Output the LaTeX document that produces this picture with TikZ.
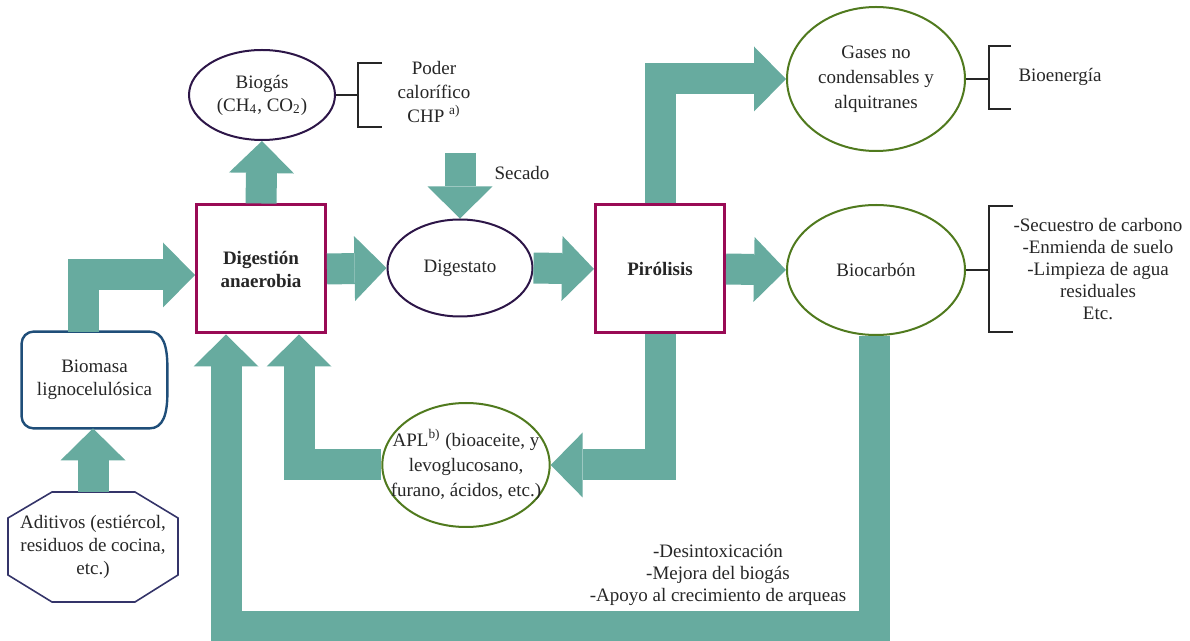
\documentclass[tikz,border=0pt]{standalone}
\usepackage{fontspec}
\setmainfont{Liberation Serif}
\usetikzlibrary{arrows.meta,calc,shapes.geometric}

\definecolor{flowteal}{RGB}{103,171,159}
\definecolor{boxred}{RGB}{153,10,85}
\definecolor{ovalpurple}{RGB}{45,22,72}
\definecolor{ovalgreen}{RGB}{80,122,30}
\definecolor{biomblue}{RGB}{31,78,121}
\definecolor{aditblue}{RGB}{52,52,105}

\tikzset{
    flow/.style={draw=flowteal, line width=15.5pt, -{Triangle[length=16pt,width=32.5pt,line width=0pt]}},
    procbox/.style={draw=boxred, line width=1.5pt, fill=white, minimum width=64.5pt, minimum height=64pt, align=center, font=\fontsize{9.5}{11.5}\selectfont\bfseries},
    oval/.style={ellipse, draw=ovalpurple, line width=1pt, fill=white, inner sep=-8pt, align=center},
    gooval/.style={oval, draw=ovalgreen},
    brk/.style={line width=1.2pt, black!85},
}

\begin{document}
\begin{tikzpicture}[x=0.5pt, y=-0.5pt, font=\fontsize{9.5}{11.5}\selectfont, text=black!85]
            \useasboundingbox (0,0) rectangle (1190,641);

            % Main nodes
            \node[oval, minimum width=73pt, minimum height=45pt] (biogas) at (262,95) {Biogás\\(CH\textsubscript{4}, CO\textsubscript{2})};
            \node[procbox] (dig) at (261,269) {Digestión\\anaerobia};
            \node[oval, minimum width=72.5pt, minimum height=48.5pt] (digest) at (460,268) {Digestato};
            \node[procbox] (piro) at (660,269) {Pirólisis};
            \node[gooval, minimum width=89pt, minimum height=72pt, font=\fontsize{9.5}{12.5}\selectfont] (gases) at (876,79) {Gases no\\condensables y\\alquitranes};
            \node[gooval, minimum width=89pt, minimum height=65pt] (biochar) at (876,270) {Biocarbón};
            \node[gooval, minimum width=83pt, minimum height=62pt, font=\fontsize{9.5}{12.5}\selectfont] (apl) at (466,465) {APL\textsuperscript{b)} (bioaceite, y\\levoglucosano,\\furano, ácidos, etc.)};
            \node[minimum width=72.5pt, minimum height=48pt, align=center] (bio) at (94.5,380) {Biomasa\\lignocelulósica};
            \node[minimum width=85pt, minimum height=55pt, align=center] (adit) at (93,547) {Aditivos (estiércol,\\residuos de cocina,\\etc.)};

            % Outlines of the two input shapes
            \draw[biomblue, line width=1.2pt, rounded corners=6pt] (bio.north) -- (bio.north west) -- (bio.south west) -- ([xshift=-15pt]bio.south east)
                .. controls ([xshift=-2pt]bio.south east) and ([yshift=-17pt]bio.east) .. (bio.east)
                .. controls ([yshift=17pt]bio.east) and ([xshift=-2pt]bio.north east) .. ([xshift=-15pt]bio.north east) -- cycle;
            \draw[aditblue, line width=0.8pt] ($(adit)+(-41,-55)$) -- ($(adit)+(42,-55)$) -- ($(adit)+(85,-29)$) -- ($(adit)+(85,28)$)
                -- ($(adit)+(42,55)$) -- ($(adit)+(-41,55)$) -- ($(adit)+(-85,28)$) -- ($(adit)+(-85,-29)$) -- cycle;

            % Side texts
            \node[align=center, font=\fontsize{9.5}{12}\selectfont] (poder) at (434,92) {Poder\\calorífico\\CHP~\textsuperscript{a)}};
            \node (secado) at (522,173) {Secado};
            \node (bioen) at (1060,77) {Bioenergía};
            \node[align=center, font=\fontsize{9.5}{11}\selectfont] (usos) at (1098,269) {-Secuestro de carbono\\-Enmienda de suelo\\-Limpieza de agua\\residuales\\Etc.};
            \node[align=center, font=\fontsize{9.5}{11.2}\selectfont] (mejora) at (718,575) {-Desintoxicación\\-Mejora del biogás\\-Apoyo al crecimiento de arqueas};

            % Brackets
            \draw[brk] (biogas.east) -- ++(22,0) coordinate (k1);
            \draw[brk] ($(k1)+(24,-32)$) -| ($(k1)+(0,32)$) -- ++(24,0);
            \draw[brk] (gases.east) -- ++(23,0) coordinate (k2);
            \draw[brk] ($(k2)+(22,-33)$) -| ($(k2)+(0,30)$) -- ++(22,0);
            \draw[brk] (biochar.east) -- ++(23,0) coordinate (k3);
            \draw[brk] ($(k3)+(24,-64)$) -| ($(k3)+(0,62)$) -- ++(24,0);

            % Flow arrows
            \coordinate (sec) at (460,153);
            \coordinate (low) at (874,627);
            \draw[flow] (adit.north) -- (adit.north |- bio.south);
            \draw[flow] ([xshift=-5.5pt]bio.north) |- ([yshift=-3pt]dig.west);
            \draw[flow] (dig.north) -- (biogas.south);
            \draw[flow] (dig.east) -- (digest.west);
            \draw[flow] (sec) -- (digest.north);
            \draw[flow] (digest.east) -- (piro.west);
            \draw[flow] (piro.north) |- (gases.west);
            \draw[flow] (piro.east) -- (biochar.west);
            \draw[flow] (piro.south) |- (apl.east);
            \draw[flow] (apl.west) -| ([xshift=19pt]dig.south);
            \draw[flow] (biochar.south -| low) -- (low) -| ([xshift=-17.5pt]dig.south);
        \end{tikzpicture}
\end{document}
